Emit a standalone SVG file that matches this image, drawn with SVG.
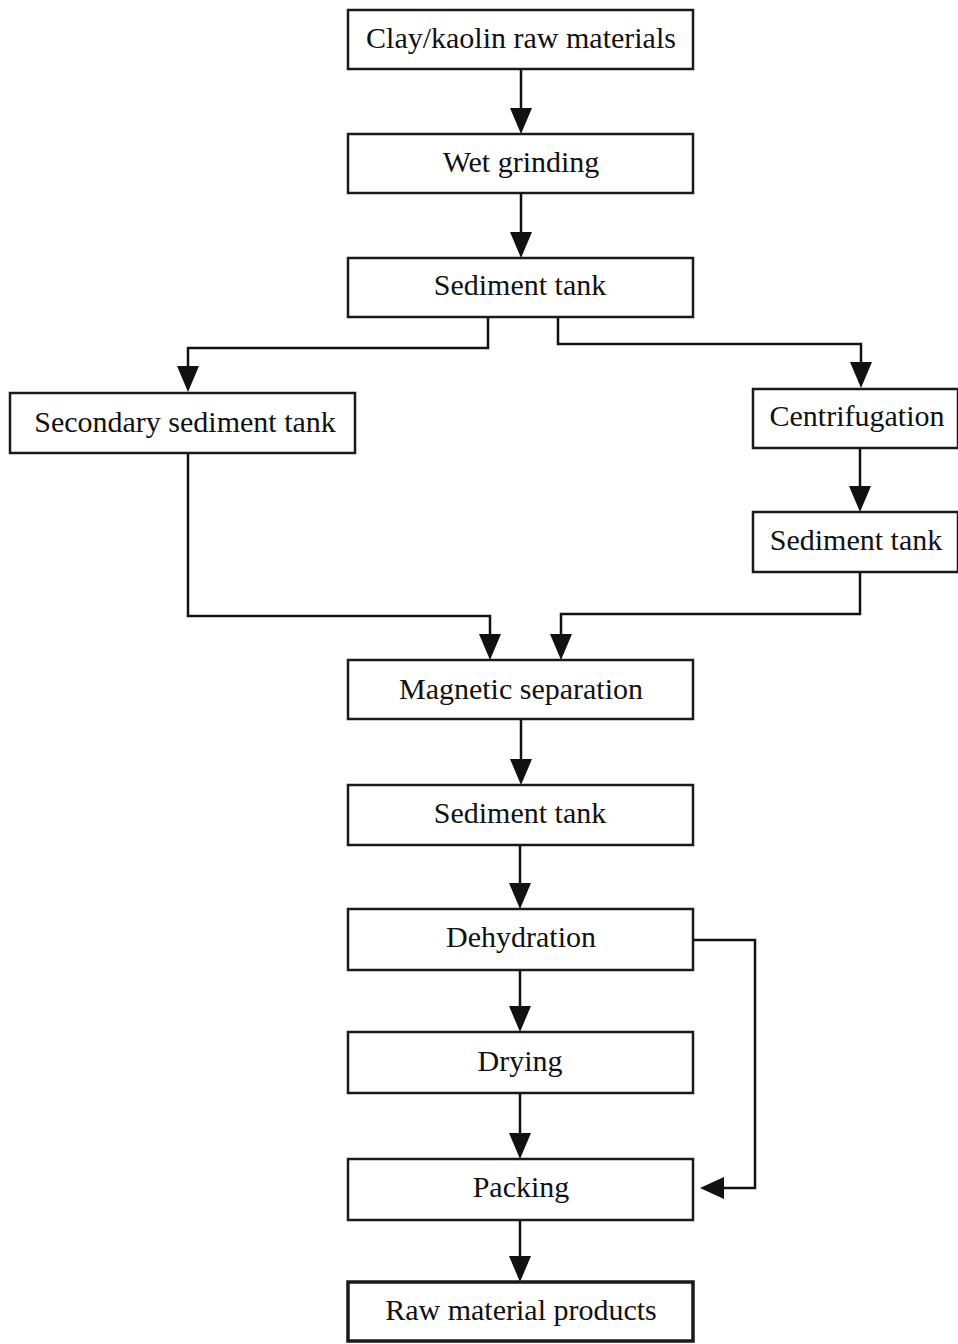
<svg xmlns="http://www.w3.org/2000/svg" width="958" height="1344" viewBox="0 0 958 1344">
  <defs>
    <style>
      .box { fill: #fff; stroke: #1a1a1a; stroke-width: 2.5; }
      .box.heavy { stroke-width: 3.5; }
      .label { font-family: "Liberation Serif", "Times New Roman", serif; font-size: 30px; fill: #111; text-anchor: middle; }
      .conn { fill: none; stroke: #111; stroke-width: 2.5; }
      .head { fill: #111; }
    </style>
  </defs>
  <rect width="958" height="1344" fill="#fff"/>

  <!-- connectors -->
  <g id="connectors">
    <path class="conn" d="M521,69 V112"/>
    <path class="head" d="M510,108 L532,108 L521,134 Z"/>
    <path class="conn" d="M521,193 V236"/>
    <path class="head" d="M510,232 L532,232 L521,258 Z"/>
    <!-- split after sediment tank -->
    <path class="conn" d="M488,317 V348 H188 V372"/>
    <path class="head" d="M177,366 L199,366 L188,392 Z"/>
    <path class="conn" d="M558,317 V344 H861 V367"/>
    <path class="head" d="M850,362 L872,362 L861,388 Z"/>
    <path class="conn" d="M860,448 V490"/>
    <path class="head" d="M849,486 L871,486 L860,512 Z"/>
    <!-- merge into magnetic separation -->
    <path class="conn" d="M188,453 V616 H490 V638"/>
    <path class="head" d="M479,634 L501,634 L490,660 Z"/>
    <path class="conn" d="M860,572 V614 H561 V638"/>
    <path class="head" d="M550,634 L572,634 L561,660 Z"/>
    <path class="conn" d="M521,719 V763"/>
    <path class="head" d="M510,759 L532,759 L521,785 Z"/>
    <path class="conn" d="M520,845 V887"/>
    <path class="head" d="M509,883 L531,883 L520,909 Z"/>
    <path class="conn" d="M520,970 V1010"/>
    <path class="head" d="M509,1006 L531,1006 L520,1032 Z"/>
    <path class="conn" d="M520,1093 V1137"/>
    <path class="head" d="M509,1133 L531,1133 L520,1159 Z"/>
    <!-- bypass from dehydration to packing -->
    <path class="conn" d="M693,940 H755 V1188 H720"/>
    <path class="head" d="M724,1177 L724,1199 L700,1188 Z"/>
    <path class="conn" d="M520,1220 V1260"/>
    <path class="head" d="M509,1256 L531,1256 L520,1282 Z"/>
  </g>

  <g id="n-clay">
    <rect class="box" x="348" y="10" width="345" height="59"/>
    <text class="label" x="521" y="48">Clay/kaolin raw materials</text>
  </g>
  <g id="n-wet-grinding">
    <rect class="box" x="348" y="134" width="345" height="59"/>
    <text class="label" x="521" y="172">Wet grinding</text>
  </g>
  <g id="n-sediment-1">
    <rect class="box" x="348" y="258" width="345" height="59"/>
    <text class="label" x="520" y="295">Sediment tank</text>
  </g>
  <g id="n-secondary">
    <rect class="box" x="10" y="393" width="345" height="60"/>
    <text class="label" x="185" y="432">Secondary sediment tank</text>
  </g>
  <g id="n-centrifugation">
    <rect class="box" x="753" y="389" width="205" height="59"/>
    <text class="label" x="857" y="426">Centrifugation</text>
  </g>
  <g id="n-sediment-2">
    <rect class="box" x="753" y="512" width="205" height="60"/>
    <text class="label" x="856" y="550">Sediment tank</text>
  </g>
  <g id="n-magnetic">
    <rect class="box" x="348" y="660" width="345" height="59"/>
    <text class="label" x="521" y="699">Magnetic separation</text>
  </g>
  <g id="n-sediment-3">
    <rect class="box" x="348" y="785" width="345" height="60"/>
    <text class="label" x="520" y="823">Sediment tank</text>
  </g>
  <g id="n-dehydration">
    <rect class="box" x="348" y="909" width="345" height="61"/>
    <text class="label" x="521" y="947">Dehydration</text>
  </g>
  <g id="n-drying">
    <rect class="box" x="348" y="1032" width="345" height="61"/>
    <text class="label" x="520" y="1071">Drying</text>
  </g>
  <g id="n-packing">
    <rect class="box" x="348" y="1159" width="345" height="61"/>
    <text class="label" x="521" y="1197">Packing</text>
  </g>
  <g id="n-products">
    <rect class="box heavy" x="348" y="1282" width="345" height="59"/>
    <text class="label" x="521" y="1320">Raw material products</text>
  </g>
</svg>
